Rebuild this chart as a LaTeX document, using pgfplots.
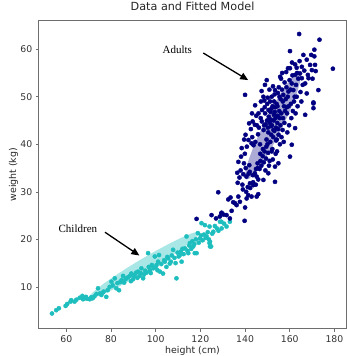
\documentclass[border=0pt]{standalone}
\usepackage{pgfplots}
\pgfplotsset{compat=1.18}
\usepackage{fontspec}
\setmainfont{DejaVu Sans}
\newfontfamily\annfont{Liberation Serif}
\usetikzlibrary{arrows.meta}
\definecolor{navyc}{RGB}{0,0,128}
\definecolor{cyanc}{RGB}{30,190,190}
\definecolor{framec}{RGB}{110,110,110}
\begin{document}
\begin{tikzpicture}
\begin{axis}[
 name=ax, scale only axis, width=307.5pt, height=308pt,
 xmin=47.7, xmax=185.3, ymin=1.2, ymax=66.0,
 xtick={60,80,...,180}, ytick={10,20,...,60},
 tick align=outside, xtick pos=bottom, ytick pos=left,
 major tick length=3pt,
 axis line style={framec, line width=0.8pt},
 every tick/.style={framec, line width=0.6pt},
 tick label style={font=\fontsize{9.3}{10}\selectfont, text=black!80},
 /pgf/number format/assume math mode=true,
 title={Data and Fitted Model},
 title style={font=\fontsize{11.2}{13}\selectfont, text=black!85, inner sep=0pt, anchor=base, at={(0.5,1)}, yshift=4.5pt},
 xlabel={height (cm)}, ylabel={weight (kg)},
 label style={font=\fontsize{9.4}{10}\selectfont, text=black!85},
 xlabel style={at={(axis description cs:0.5,0)}, anchor=north, inner sep=0pt, yshift=-17pt},
 ylabel style={at={(axis description cs:0,0.5)}, anchor=south, inner sep=0pt, rotate=0, yshift=20.5pt},
]
% fitted ellipses
\addplot[draw=none, fill=cyanc, fill opacity=0.38] coordinates {
(119.80,21.55) (119.34,21.01) (117.21,20.03) (113.55,18.68) (108.64,17.06) (102.79,15.27)
(96.39,13.43) (89.89,11.67) (83.74,10.11) (78.35,8.86) (74.09,7.99) (71.24,7.59)
(70.00,7.65) (70.46,8.19) (72.60,9.17) (76.25,10.52) (81.16,12.14) (87.01,13.94)
(93.41,15.78) (99.91,17.54) (106.06,19.09) (111.45,20.34) (115.72,21.21) (118.56,21.61) (119.80,21.55)};
\addplot[draw=none, fill=navyc, fill opacity=0.33] coordinates {
(164.50,55.20) (165.03,54.60) (164.70,53.26) (163.53,51.29) (161.63,48.81) (159.10,46.01)
(156.11,43.05) (152.88,40.15) (149.63,37.51) (146.57,35.31) (143.92,33.68) (141.85,32.76)
(140.50,32.60) (139.97,33.20) (140.30,34.54) (141.47,36.51) (143.37,38.99) (145.90,41.79)
(148.89,44.75) (152.12,47.65) (155.37,50.29) (158.43,52.49) (161.08,54.12) (163.16,55.04) (164.50,55.20)};
% children
\addplot[only marks, mark=*, mark size=2.1pt, color=cyanc] coordinates {
(53.6,4.4) (55.5,5.1) (56.7,5.5) (59.7,6.0) (60.4,6.4) (61.9,6.9) (62.2,7.2) (63.7,6.9)
(64.5,7.3) (66.0,7.7) (67.2,8.1) (67.5,7.4) (68.2,7.6) (68.8,7.9) (69.3,7.5) (70.5,7.4)
(71.2,7.8) (71.8,7.6) (72.6,8.0) (73.5,8.5) (74.2,9.7) (75.0,8.6) (75.7,8.3) (76.3,8.8)
(76.7,9.0) (77.9,7.9) (78.5,9.3) (79.4,10.0) (80.2,11.1) (80.8,10.3) (81.7,11.8) (82.4,9.7)
(82.9,10.8) (83.6,9.3) (84.1,11.0) (84.7,11.4) (85.4,12.3) (85.9,10.9) (86.5,11.6) (86.9,11.8)
(87.6,12.0) (88.4,12.3) (88.9,11.2) (89.1,12.8) (89.9,11.6) (90.3,12.2) (90.6,12.5) (91.2,13.0)
(91.8,11.9) (92.1,13.2) (92.9,12.3) (93.3,12.9) (93.6,13.9) (94.4,11.8) (94.8,12.6) (95.3,13.4)
(95.9,13.0) (96.6,17.1) (96.9,14.2) (97.4,13.5) (97.8,12.9) (98.3,14.6) (98.9,13.9) (99.6,16.4)
(99.9,14.1) (100.4,14.6) (100.8,13.5) (101.1,15.3) (101.5,16.7) (101.9,13.2) (102.5,14.8) (103.3,12.8)
(103.8,15.6) (104.1,15.3) (104.8,14.2) (105.2,16.3) (105.6,16.0) (106.3,14.9) (106.8,15.3) (107.2,16.6)
(107.8,17.8) (108.4,16.1) (108.9,15.0) (109.3,11.8) (109.8,17.2) (110.3,16.4) (110.8,16.7) (111.2,17.4)
(111.6,15.3) (112.0,18.0) (112.5,16.9) (113.1,18.1) (113.8,20.6) (114.2,17.6) (114.6,17.1) (115.0,18.7)
(115.3,19.2) (115.9,18.0) (116.4,19.6) (116.8,18.5) (117.3,19.0) (117.5,17.1) (118.0,20.0) (118.3,17.1)
(118.9,21.3) (119.3,19.3) (119.8,20.2) (120.3,20.8) (120.5,23.4) (121.0,19.8) (121.6,21.0) (122.0,23.0)
(122.4,20.3) (122.8,20.6) (123.3,21.5) (123.8,20.0) (124.1,22.7) (124.1,19.2) (124.3,18.5) (124.3,19.5)
(124.8,18.5) (125.3,21.2) (125.8,21.6) (126.5,22.8) (127.4,22.3) (128.1,21.8) (128.8,23.7) (129.4,23.7)
(129.5,22.3) (130.6,23.3) (131.7,22.7) (133.2,23.7)};
% adults
\addplot[only marks, mark=*, mark size=2.1pt, color=navyc] coordinates {
(118.3,24.3) (125.0,25.1) (127.0,24.4) (128.0,29.9) (128.7,24.8) (129.4,25.5) (129.5,25.6) (130.4,25.2)
(131.7,25.1) (132.5,28.4) (133.2,24.4) (133.5,28.8) (134.0,26.0) (134.7,27.8) (135.5,27.6) (136.2,27.2)
(136.7,31.9) (137.0,29.0) (137.7,27.9) (139.2,33.7) (139.8,23.9) (140.0,26.7) (140.0,50.4) (140.7,28.6)
(141.4,29.3) (142.2,31.8) (142.9,29.0) (143.7,31.4) (144.4,33.9) (145.2,29.0) (145.9,29.5) (145.9,32.6)
(148.2,32.5) (150.4,33.9) (153.4,32.1)
(137.0,36.3) (138.5,39.2) (138.0,34.5) (139.5,36.0) (138.8,31.5) (137.5,33.0) (139.9,38.0) (136.5,34.0)
(138.2,37.4) (139.6,41.0) (139.0,30.5)
(140.3,35.0) (140.6,33.2) (141.5,40.9) (141.8,44.4) (141.2,31.0) (140.8,39.5) (141.9,35.6)
(140.2,42.0) (141.6,33.8) (140.5,30.0)
(142.1,34.2) (143.2,41.5) (143.5,33.5) (143.8,39.8) (142.6,43.2)
(142.3,30.8) (143.4,44.8) (142.9,40.2) (143.6,32.0) (143.1,46.5)
(144.4,44.1) (144.6,40.5) (144.9,34.8) (145.2,33.2) (145.8,42.1)
(145.0,46.0) (145.6,36.0) (144.8,31.5) (145.3,44.0) (144.5,48.2) (145.7,35.0)
(146.0,46.5) (146.9,36.5) (147.1,49.0) (147.4,51.2) (146.2,43.5) (146.8,38.0)
(147.5,44.8) (146.5,34.8) (147.9,37.5) (147.0,45.5) (147.6,47.2)
(146.7,40.0) (147.3,35.5)
(148.2,50.0) (148.9,52.5) (148.5,44.0) (148.7,38.5) (149.0,46.5) (149.7,53.5)
(149.5,39.5) (148.4,36.2) (149.9,48.5) (148.8,47.8) (149.2,44.2) (149.6,41.0) (148.3,43.0) (149.4,37.0)
(148.6,49.2) (149.8,45.0) (149.1,34.5) (148.0,39.0)
(150.2,43.5) (150.5,47.2) (151.2,49.0) (151.5,45.2) (151.9,50.0) (150.3,38.2) (150.9,51.5)
(151.6,43.8) (151.0,36.5) (151.8,47.5) (150.6,45.8) (151.3,40.5) (150.1,49.8) (151.7,42.0) (150.7,35.5)
(151.4,46.8) (150.4,42.5) (151.1,44.5) (151.9,38.5) (150.0,40.0)
(152.0,44.0) (152.3,48.0) (152.6,41.5) (152.9,46.2) (153.2,50.5) (153.4,51.4) (153.4,35.3) (153.8,43.5)
(152.2,39.0) (152.8,45.0) (153.5,47.8) (153.9,40.8) (152.5,52.2) (153.1,42.8) (153.6,45.5) (152.4,36.8)
(153.0,49.0) (153.7,38.0) (152.7,43.0) (153.3,46.8)
(154.1,48.5) (154.4,44.5) (154.7,50.8) (155.0,42.0) (155.3,47.0) (155.7,54.2) (154.9,36.0) (155.5,45.5)
(154.2,41.0) (155.9,49.5) (154.6,46.0) (155.1,52.0) (155.6,40.0) (154.3,38.5) (154.8,43.2) (155.4,50.0)
(155.8,44.0) (154.5,48.0)
(156.2,46.5) (156.5,51.5) (156.8,43.0) (157.1,50.4) (157.4,48.0) (157.7,53.0) (156.3,41.5) (157.0,45.5)
(157.9,47.0) (156.6,55.0) (157.3,40.5) (156.9,49.0) (157.6,44.5) (156.1,53.8)
(158.2,49.5) (158.5,52.0) (158.8,46.5) (159.1,50.0) (159.4,51.1) (159.7,44.0) (158.4,55.2) (158.9,42.5)
(159.5,48.0) (159.9,53.5) (158.6,47.8) (159.2,56.0)
(160.1,56.0) (160.1,59.6) (160.1,37.4) (160.9,39.9) (160.9,52.8) (161.6,51.4) (160.5,48.5) (161.2,54.5)
(160.7,45.5) (161.9,49.0) (160.3,51.5) (161.4,47.0) (161.0,57.2)
(162.4,43.4) (162.4,54.6) (162.4,56.8) (163.1,56.1) (163.1,50.0) (162.8,52.5) (163.5,48.0) (162.2,50.0)
(163.8,53.8) (162.6,46.5) (163.3,55.0)
(164.2,63.2) (164.6,54.9) (165.4,56.3) (165.4,53.9) (164.8,51.0) (165.2,49.0) (165.8,52.5) (164.4,57.5)
(166.1,58.8) (166.9,46.2) (166.9,52.8) (167.6,57.8) (167.6,50.7) (168.1,54.6) (168.4,53.9) (166.5,55.5)
(169.1,56.7) (169.6,58.8) (169.9,55.6) (170.2,53.8) (170.6,48.6) (170.6,47.6) (170.6,48.8) (171.0,59.9)
(171.0,58.5) (171.3,56.7) (171.6,55.4) (172.8,51.4) (173.3,62.0) (179.3,55.9)};
% annotations
\node[font=\annfont\fontsize{11}{12}\selectfont] at (axis cs:109.7,59.8) {Adults};
\draw[line width=1.3pt, -{Triangle[length=8pt,width=7pt]}] (axis cs:121.3,59.2) -- (axis cs:141.4,53.5);
\node[font=\annfont\fontsize{11}{12}\selectfont] at (axis cs:65.2,22.2) {Children};
\draw[line width=1.3pt, -{Triangle[length=8pt,width=7pt]}] (axis cs:77.3,21.5) -- (axis cs:92.7,16.6);
\end{axis}
\pgfresetboundingbox
\path ([shift={(-38.8pt,-27.3pt)}]ax.south west) rectangle ([shift={(0.7pt,20.7pt)}]ax.north east);
\end{tikzpicture}
\end{document}
